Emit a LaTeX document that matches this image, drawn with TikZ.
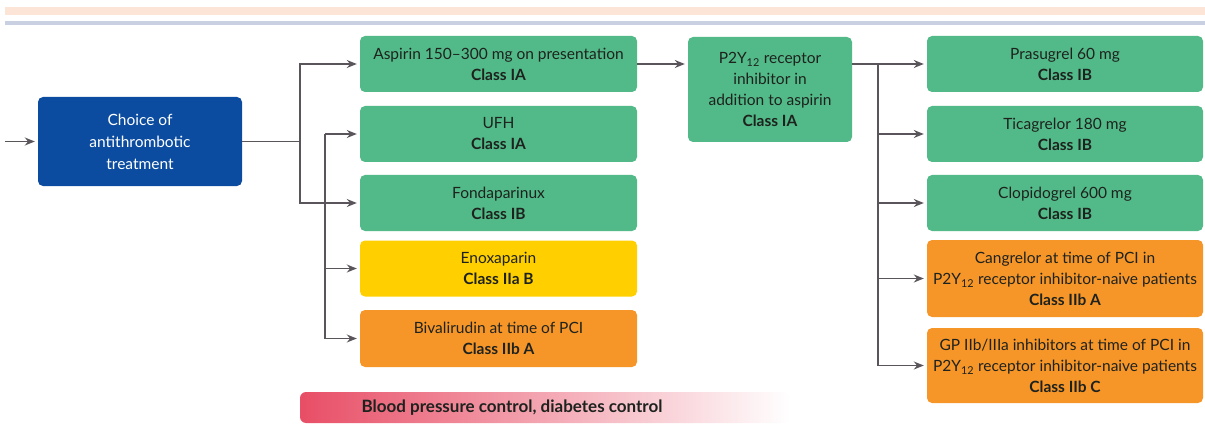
\documentclass[tikz,border=0pt]{standalone}
\usepackage{fontspec}
\setmainfont{Lato}
\usepackage{tikz}
\usetikzlibrary{calc}
\usetikzlibrary{arrows.meta}

\definecolor{escgreen}{RGB}{82,186,136}
\definecolor{escyellow}{RGB}{255,207,0}
\definecolor{escorange}{RGB}{247,150,40}
\definecolor{escblue}{RGB}{12,76,160}
\definecolor{esctext}{RGB}{30,34,30}
\definecolor{escline}{RGB}{90,85,90}
\definecolor{escpink}{RGB}{232,78,102}
\definecolor{escpeach}{RGB}{252,228,214}
\definecolor{escrule}{RGB}{200,208,226}

\tikzset{
    drug/.style={rounded corners=5pt, align=center, inner sep=0pt, text=esctext,
        font=\fontsize{15.5}{21}\selectfont},
    arr/.style={draw=escline, line width=1.4pt, -{Stealth[length=10pt,width=8pt]}, shorten >=3pt},
    fork/.style={draw=escline, line width=1.4pt},
}

\begin{document}
\begin{tikzpicture}[x=1pt,y=-1pt]
            \useasboundingbox (0,0) rectangle (1205,425);
            \fill[escpeach] (5,7) rectangle (1205,15);
            \fill[escrule] (5,21) rectangle (1205,25);

            \node[drug, fill=escblue, text=white, minimum width=204pt, minimum height=89pt,
                font=\fontsize{15.5}{22}\selectfont] (choice) at (140,141.5)
                {Choice of\\antithrombotic\\treatment};

            \node[drug, fill=escgreen, minimum width=277pt, minimum height=56pt] (aspirin) at (498.5,64)
                {Aspirin 150–300 mg on presentation\\\textbf{Class IA}};
            \node[drug, fill=escgreen, minimum width=277pt, minimum height=56pt] (ufh) at (498.5,134)
                {UFH\\\textbf{Class IA}};
            \node[drug, fill=escgreen, minimum width=277pt, minimum height=56pt] (fonda) at (498.5,203)
                {Fondaparinux\\\textbf{Class IB}};
            \node[drug, fill=escyellow, minimum width=277pt, minimum height=56pt] (enox) at (498.5,268.5)
                {Enoxaparin\\\textbf{Class IIa B}};
            \node[drug, fill=escorange, minimum width=277pt, minimum height=57pt] (bival) at (498.5,338.5)
                {Bivalirudin at time of PCI\\\textbf{Class IIb A}};

            \node[drug, fill=escgreen, minimum width=164pt, minimum height=105pt] (ptwoy) at (770,89.5)
                {P2Y\textsubscript{12} receptor\\inhibitor in\\addition to aspirin\\\textbf{Class IA}};

            \node[drug, fill=escgreen, minimum width=276pt, minimum height=56pt] (prasu) at (1065,64)
                {Prasugrel 60 mg\\\textbf{Class IB}};
            \node[drug, fill=escgreen, minimum width=276pt, minimum height=56pt] (ticag) at (1065,134)
                {Ticagrelor 180 mg\\\textbf{Class IB}};
            \node[drug, fill=escgreen, minimum width=276pt, minimum height=56pt] (clopi) at (1065,203)
                {Clopidogrel 600 mg\\\textbf{Class IB}};
            \node[drug, fill=escorange, minimum width=276pt, minimum height=77pt] (cangr) at (1065,278.5)
                {Cangrelor at time of PCI in\\P2Y\textsubscript{12} receptor inhibitor-naive patients\\\textbf{Class IIb A}};
            \node[drug, fill=escorange, minimum width=276pt, minimum height=75pt] (gpiib) at (1065,365.5)
                {GP IIb/IIIa inhibitors at time of PCI in\\P2Y\textsubscript{12} receptor inhibitor-naive patients\\\textbf{Class IIb C}};

            \coordinate (start) at (5,141.5);
            \coordinate (forka) at (300,141.5);
            \coordinate (forkb) at (325,134);
            \coordinate (forkc) at (878,64);

            \draw[arr] (start) -- (choice.west);
            \draw[fork] (choice.east) -- (forka);
            \draw[arr] (forka) |- (aspirin.west);
            \draw[arr] (forka) |- (fonda.west);
            \draw[arr] (forkb) -- (ufh.west);
            \draw[arr] (forkb) |- (enox.west);
            \draw[arr] (forkb) |- (bival.west);
            \draw[arr] (aspirin.east) -- (aspirin.east -| ptwoy.west);
            \draw[fork] (aspirin.east -| ptwoy.east) -- (forkc);
            \draw[arr] (forkc) -- (prasu.west);
            \draw[arr] (forkc) |- (ticag.west);
            \draw[arr] (forkc) |- (clopi.west);
            \draw[arr] (forkc) |- (cangr.west);
            \draw[arr] (forkc) |- (gpiib.west);

            % risk factor bar
            \shade[left color=escpink, right color=white, rounded corners=6pt] (300,392) rectangle (790,423);
            \node[anchor=west, text=esctext, font=\fontsize{17}{20}\selectfont\bfseries] (bpcontrol) at (358,408)
                {Blood pressure control, diabetes control};
        \end{tikzpicture}
\end{document}
